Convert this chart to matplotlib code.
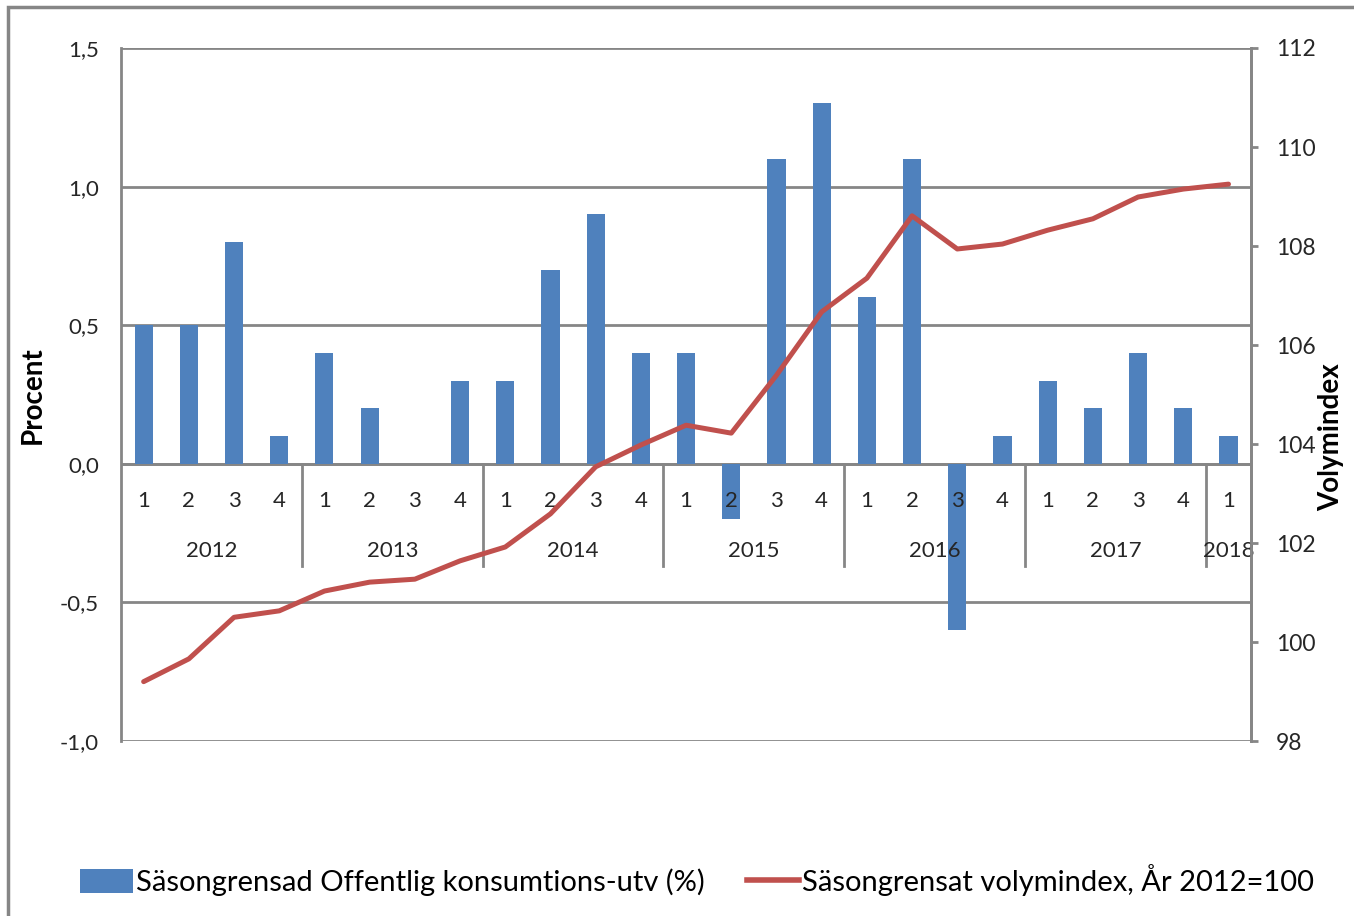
import matplotlib.pyplot as plt
import numpy as np
from matplotlib.lines import Line2D
from matplotlib.patches import Patch, Rectangle
from matplotlib.ticker import FuncFormatter

plt.rcParams["font.family"] = ["Lato", "DejaVu Sans"]

years = ["2012", "2013", "2014", "2015", "2016", "2017", "2018"]
quarters = ["1", "2", "3", "4"] * 6 + ["1"]
growth = [0.5, 0.5, 0.8, 0.1,
          0.4, 0.2, 0.0, 0.3,
          0.3, 0.7, 0.9, 0.4,
          0.4, -0.2, 1.1, 1.3,
          0.6, 1.1, -0.6, 0.1,
          0.3, 0.2, 0.4, 0.2,
          0.1]
volume = [99.2, 99.66, 100.5, 100.63,
          101.03, 101.21, 101.27, 101.64,
          101.92, 102.59, 103.54, 103.98,
          104.38, 104.22, 105.39, 106.67,
          107.35, 108.61, 107.94, 108.04,
          108.32, 108.55, 108.99, 109.15,
          109.25]

BLUE = "#4F81BD"
RED = "#C0504D"
GRID = "#868686"

fig = plt.figure(figsize=(13.54, 9.16), dpi=100)
ax = fig.add_axes([0.0894, 0.1910, 0.8346, 0.7566])
ax2 = ax.twinx()

n = len(growth)
x = np.arange(n)
ax.bar(x, growth, width=0.4, color=BLUE, zorder=2)
ax.set_xlim(-0.5, n - 0.5)
ax.set_ylim(-1.0, 1.5)
ax.set_yticks(np.arange(-1.0, 1.51, 0.5))
ax.yaxis.set_major_formatter(FuncFormatter(lambda v, _: f"{v:.1f}".replace(".", ",")))
ax.tick_params(axis="y", length=0, pad=16, labelsize=16, labelcolor="#262626")
ax.set_xticks([])
ax.grid(axis="y", color=GRID, linewidth=2, zorder=1)
for side in ["top", "bottom"]:
    ax.spines[side].set_visible(False)
for side in ["left", "right"]:
    ax.spines[side].set_color(GRID)
    ax.spines[side].set_linewidth(2)
ax.axhline(0, color=GRID, linewidth=2, zorder=1)
ax.set_ylabel("Procent", fontsize=20, fontweight="bold")
ax.yaxis.set_label_coords(-0.0665, 0.499)

# category axis: quarter labels, year labels and year separators
trans = ax.get_xaxis_transform()
y0 = ax.transAxes.inverted().transform(ax.transData.transform((0, 0)))[1]
for i, q in enumerate(quarters):
    ax.text(i, y0 - 0.053, q, transform=trans, ha="center", va="center",
            fontsize=16, color="#262626", zorder=3)
for k, yr in enumerate(years):
    start = 4 * k
    end = min(start + 4, n)
    ax.text((start + end - 1) / 2, y0 - 0.126, yr, transform=trans, ha="center",
            va="center", fontsize=16, color="#262626", zorder=3)
    if k > 0:
        ax.plot([start - 0.5, start - 0.5], [y0, y0 - 0.148], transform=trans,
                color=GRID, linewidth=2, clip_on=False, zorder=1)

ax2.plot(x, volume, color=RED, linewidth=3.6, solid_capstyle="round", zorder=4)
ax2.set_ylim(98, 112)
ax2.set_yticks(np.arange(98, 113, 2))
ax2.tick_params(axis="y", length=5, width=2, color=GRID, pad=13, labelsize=16.5,
                labelcolor="#262626")
for side in ["top", "bottom", "left"]:
    ax2.spines[side].set_visible(False)
ax2.spines["right"].set_color(GRID)
ax2.spines["right"].set_linewidth(2)
ax2.set_ylabel("Volymindex", fontsize=20, fontweight="bold")
ax2.yaxis.set_label_coords(1.059, 0.439)

handles = [Patch(facecolor=BLUE, edgecolor="none"),
           Line2D([0], [0], color=RED, linewidth=4)]
labels = ["Säsongrensad Offentlig konsumtions-utv (%)",
          "Säsongrensat volymindex, År 2012=100"]
fig.legend(handles, labels, loc="center", bbox_to_anchor=(0.515, 1 - 880 / 916),
           ncol=2, frameon=False, fontsize=21, handlelength=1.8, handleheight=0.9,
           handletextpad=0.1, columnspacing=1.45)

# outer chart-area frame
fig.patches.append(Rectangle((8 / 1354, -0.1), 1.2, 1.1 - 8 / 916 + 0.001,
                             transform=fig.transFigure, fill=False,
                             edgecolor=GRID, linewidth=2.5))

fig.savefig("out.png", dpi=100)
